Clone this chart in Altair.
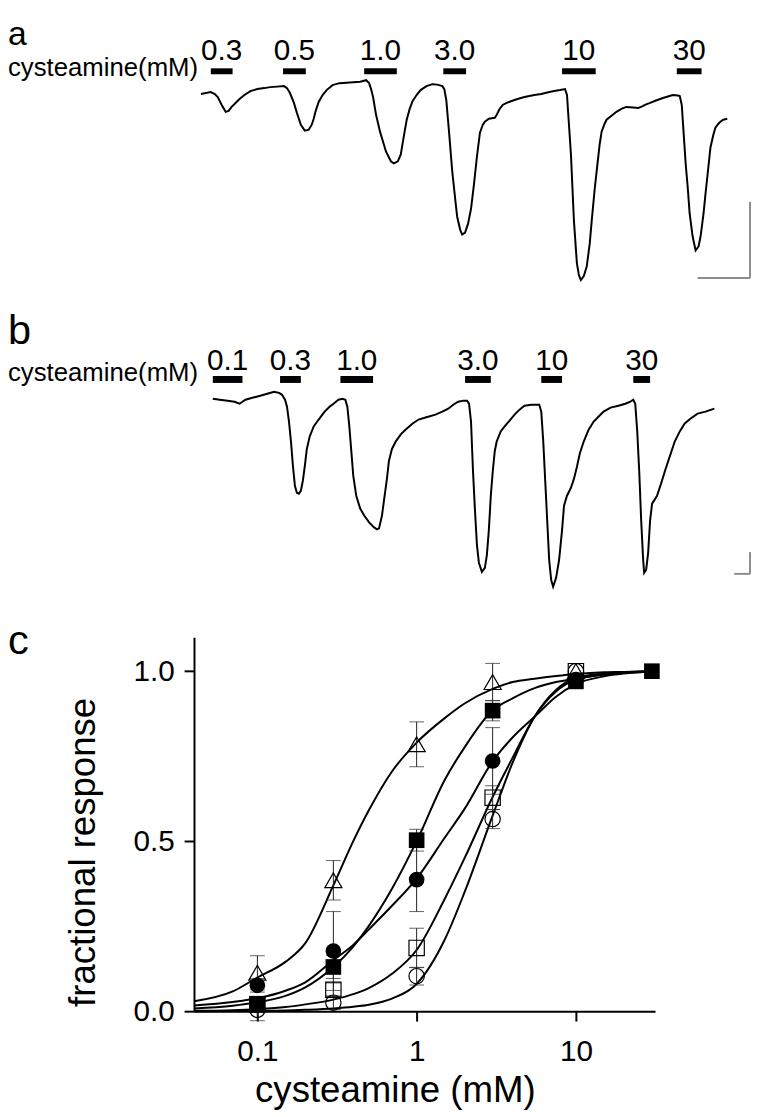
import altair as alt
import pandas as pd

FONT = "Liberation Sans"

# ---------------- panel a : current trace (time, current) in arbitrary units
trace_a = [(203,-89),(208,-88),(213,-87),(217,-89),(220,-92),(224,-100),(228,-107),(231,-106),(234,-102),
           (237,-99),(242,-94),(247,-90),(253,-86),(260,-84),(267,-83),(273,-82),(280,-81.5),(287,-81),
           (290,-83),(293,-88),(297,-98),(300,-108),(304,-120),(308,-126),(312,-125),(315,-120),(317,-114),
           (319,-106),(322,-97),(326,-90),(330,-85),(336,-80),(343,-78),(350,-77.5),(357,-77),(364,-76.5),
           (370,-75),(373,-78),(375,-84),(377,-92),(380,-110),(384,-127),(390,-147),(395,-157),(398,-159),
           (402,-157),(405,-150),(408,-132),(411,-115),(414,-104),(417,-96),(421,-90),(425,-85),(431,-81),
           (437,-79),(442,-79.5),(447,-81),(449,-84),(451,-95),(454,-130),(457,-167),(460,-195),(462,-213),
           (465,-226),(467,-231),(470,-229),(473,-220),(476,-205),(479,-180),(482,-152),(485,-128),(488,-120),
           (490,-117),(494,-114),(497,-113.5),(500,-113),(502,-110),(505,-104),(508,-100),(512,-98),(517,-96),
           (523,-94),(530,-92),(540,-90),(547,-89),(553,-87.5),(560,-86),(566,-85),(571,-84),(573,-90),
           (575,-120),(577,-150),(580,-217),(583,-260),(585,-272),(587,-277),(590,-273),(593,-263),(596,-240),
           (598,-217),(601,-185),(603,-167),(606,-140),(608,-127),(611,-119),(613,-115),(618,-111),(623,-107),
           (628,-104),(633,-102),(640,-102.5),(645,-103),(649,-101.5),(653,-99.5),(657,-98),(663,-95.5),
           (670,-93),(675,-91.5),(680,-90),(685,-90.5),(687,-91),(689,-100),(691,-130),(693,-160),(695,-183),
           (697,-210),(700,-233),(703,-247),(706,-243),(708,-233),(711,-210),(713,-190),(716,-162),(718,-143),
           (721,-130),(723,-123),(726,-119),(728,-117),(731,-115),(735,-114)]

# ---------------- panel b : current trace
trace_b = [(215,-397),(222,-398),(230,-399),(237,-400),(242,-402),(245,-400),(248,-398),(255,-396),(263,-394),
           (270,-392),(277,-390),(282,-391),(285,-393),(288,-398),(290,-405),(292,-420),(294,-440),(296,-465),
           (298,-485),(300,-492),(302,-493),(304,-490),(306,-480),(308,-465),(310,-448),(313,-435),(317,-425),
           (322,-418),(328,-410),(333,-405),(337,-402),(342,-398),(346,-397),(349,-398),(351,-405),(353,-425),
           (355,-450),(357,-475),(360,-495),(364,-508),(368,-515),(373,-522),(378,-527),(381,-529),(383,-528),
           (386,-515),(388,-500),(391,-478),(393,-460),(396,-448),(400,-440),(405,-433),(410,-428),(417,-422),
           (423,-418),(430,-416),(440,-413),(447,-410),(453,-407),(458,-403),(463,-400),(468,-399),(472,-399),
           (474,-402),(476,-420),(478,-470),(480,-510),(482,-545),(484,-563),(487,-572),(490,-568),(492,-555),
           (494,-530),(496,-495),(498,-470),(500,-450),(502,-440),(506,-430),(510,-425),(515,-419),(520,-413),
           (525,-408),(530,-404),(537,-403),(545,-403),(547,-410),(549,-440),(551,-480),(553,-520),(555,-560),
           (557,-580),(559,-587),(562,-578),(565,-560),(568,-530),(570,-505),(573,-495),(577,-487),(580,-478),
           (583,-466),(586,-452),(590,-440),(595,-428),(600,-420),(605,-415),(610,-410),(617,-406),(625,-404),
           (632,-402),(637,-400),(640,-398),(642,-402),(644,-430),(646,-470),(648,-520),(650,-560),(651,-573),
           (653,-570),(655,-553),(657,-520),(659,-503),(661,-500),(664,-495),(668,-483),(672,-470),(677,-455),
           (682,-440),(687,-430),(692,-422),(698,-417),(705,-412),(713,-410),(722,-407)]

# ---------------- drug application bars
bars_a_start = [213, 286, 368, 448, 568, 684]
bars_a_end = [235, 309, 401, 471, 602, 709]
bars_a_conc = ["0.3", "0.5", "1.0", "3.0", "10", "30"]
bars_b_start = [215, 283, 344, 470, 547, 640]
bars_b_end = [245, 304, 377, 496, 568, 657]
bars_b_conc = ["0.1", "0.3", "1.0", "3.0", "10", "30"]

# scale bars (t1, i1, t2, i2)
scale_bars = [(758, -198, 758, -275), (705, -275, 758, -275),
              (758, -552, 758, -574), (742, -574, 758, -574)]

# ---------------- panel c : dose-response data (mean, error)
series_names = ["tri", "fsq", "fci", "osq", "oci"]
pt_conc = {
    "tri": [0.1, 0.3, 1, 3, 10],
    "fsq": [0.1, 0.3, 1, 3, 10, 30],
    "fci": [0.1, 0.3, 1, 3, 10],
    "osq": [0.1, 0.3, 1, 3, 10],
    "oci": [0.1, 0.3, 1, 3, 10],
}
pt_mean = {
    "tri": [0.113, 0.385, 0.785, 0.968, 1.0],
    "fsq": [0.022, 0.13, 0.503, 0.884, 0.97, 1.0],
    "fci": [0.076, 0.177, 0.387, 0.736, 0.975],
    "osq": [0.02, 0.063, 0.186, 0.628, 1.0],
    "oci": [0.004, 0.025, 0.103, 0.565, 1.0],
}
pt_err = {
    "tri": [0.05, 0.058, 0.066, 0.055, 0.0],
    "fsq": [0.015, 0.034, 0.032, 0.03, 0.01, 0.0],
    "fci": [0.02, 0.116, 0.094, 0.098, 0.01],
    "osq": [0.015, 0.02, 0.058, 0.035, 0.0],
    "oci": [0.032, 0.02, 0.026, 0.028, 0.0],
}

# fitted curves
curve_conc = [0.04, 0.07, 0.1, 0.15, 0.2, 0.3, 0.4, 0.5, 0.7, 1.0, 1.5, 2.0, 3.0, 4.0, 5.5, 7.5, 10, 15, 20, 30]
curve_vals = {
    "tri": [0.029, 0.058, 0.099, 0.145, 0.2, 0.37, 0.5, 0.59, 0.705, 0.79, 0.862, 0.905, 0.948, 0.968, 0.978,
            0.986, 0.992, 0.997, 0.998, 1.0],
    "fsq": [0.008, 0.016, 0.026, 0.045, 0.07, 0.13, 0.19, 0.25, 0.36, 0.50, 0.68, 0.776, 0.885, 0.92, 0.95,
            0.968, 0.978, 0.99, 0.995, 0.998],
    "fci": [0.017, 0.027, 0.038, 0.06, 0.085, 0.15, 0.195, 0.24, 0.31, 0.39, 0.51, 0.595, 0.735, 0.805, 0.866,
            0.925, 0.962, 0.985, 0.993, 0.998],
    "osq": [0.001, 0.003, 0.006, 0.012, 0.02, 0.034, 0.05, 0.068, 0.11, 0.18, 0.33, 0.45, 0.63, 0.745, 0.866,
            0.94, 0.975, 0.99, 0.996, 0.999],
    "oci": [0.0, 0.0005, 0.001, 0.002, 0.004, 0.008, 0.013, 0.019, 0.037, 0.08, 0.21, 0.35, 0.575, 0.73, 0.866,
            0.945, 0.98, 0.993, 0.997, 1.0],
}

# ---------------- layout constants (pixels / levels)
W, H = 752, 1109
BAR_LEVEL = {"a": (-63, -69), "b": (-374, -381)}
LABEL_LEVEL = {"a": -55, "b": -368}

# ---------------- tables
rows = [{"panel": "a", "t": t, "i": i} for t, i in trace_a] + \
       [{"panel": "b", "t": t, "i": i} for t, i in trace_b]
df_tr = pd.DataFrame(rows)

brows = []
for p, st, en, cc in (("a", bars_a_start, bars_a_end, bars_a_conc), ("b", bars_b_start, bars_b_end, bars_b_conc)):
    for s, e, c in zip(st, en, cc):
        brows.append({"panel": p, "start": s, "end": e, "mid": (s + e) / 2, "conc": c,
                      "top": BAR_LEVEL[p][0], "bottom": BAR_LEVEL[p][1], "lab": LABEL_LEVEL[p]})
df_bars = pd.DataFrame(brows)

df_sb = pd.DataFrame(scale_bars, columns=["t1", "i1", "t2", "i2"])

df_ann = pd.DataFrame([
    {"text": "a", "t": 8, "i": -39.5, "fs": 34},
    {"text": "cysteamine(mM)", "t": 8, "i": -71, "fs": 26},
    {"text": "b", "t": 8, "i": -342, "fs": 42},
    {"text": "cysteamine(mM)", "t": 8, "i": -379, "fs": 26},
    {"text": "c", "t": 8, "i": -655, "fs": 42},
])

crow = []
for s in series_names:
    for x, y in zip(curve_conc, curve_vals[s]):
        crow.append({"series": s, "x": x, "y": y})
df_curves = pd.DataFrame(crow)

prow = []
for s in series_names:
    for x, m, e in zip(pt_conc[s], pt_mean[s], pt_err[s]):
        prow.append({"series": s, "x": x, "y": m, "lo": m - e, "hi": m + e, "err": e})
df_pts = pd.DataFrame(prow)
df_err = df_pts[df_pts["err"] > 0]
df_caps = pd.concat([df_err[["series", "x"]].assign(y=df_err["lo"]),
                     df_err[["series", "x"]].assign(y=df_err["hi"])])

# ---------------- panels a, b
XT = alt.Scale(domain=[8, 760], nice=False, zero=False)
YI = alt.Scale(domain=[-1117, -8], nice=False, zero=False)


def tx(f):
    return alt.X(f, type="quantitative", scale=XT, axis=None)


def ty(f):
    return alt.Y(f, type="quantitative", scale=YI, axis=None)


trace_line = alt.Chart(df_tr).mark_line(color="black", strokeWidth=2).encode(
    x=tx("t"), y=ty("i"), detail="panel:N")
bars = alt.Chart(df_bars).mark_rect(color="black").encode(
    x=tx("start"), x2="end", y=ty("top"), y2="bottom")
bar_labels = alt.Chart(df_bars).mark_text(font=FONT, fontSize=30, baseline="alphabetic", align="center",
                                          color="black").encode(x=tx("mid"), y=ty("lab"), text="conc:N")
ann = alt.Chart(df_ann).mark_text(font=FONT, baseline="alphabetic", align="left", color="black").encode(
    x=tx("t"), y=ty("i"), text="text:N", size=alt.Size("fs:Q", scale=None, legend=None))
sbars = alt.Chart(df_sb).mark_rule(color="#8c8c8c", strokeWidth=2).encode(
    x=tx("t1"), x2="t2", y=ty("i1"), y2="i2")

layer_ab = alt.layer(trace_line, bars, bar_labels, ann, sbars)

# ---------------- panel c
xaxis = alt.Axis(orient="bottom", offset=-101, values=[0.1, 1, 10], format="~g", grid=False,
                 labelFont=FONT, labelFontSize=30, labelColor="black", labelPadding=16,
                 labelFlush=False, labelOverlap=False,
                 tickSize=10, tickWidth=2, tickColor="black", domainWidth=2, domainColor="black",
                 title="cysteamine (mM)", titleFont=FONT, titleFontSize=37, titleFontWeight="normal",
                 titleColor="black", titleX=391, titleY=91, titleBaseline="alphabetic", titleAlign="center")
yaxis = alt.Axis(orient="left", offset=-188, values=[0, 0.5, 1.0], format=".1f", grid=False,
                 labelFont=FONT, labelFontSize=30, labelColor="black", labelPadding=10,
                 labelFlush=False, labelOverlap=False,
                 tickSize=10, tickWidth=2, tickColor="black", domainWidth=2, domainColor="black",
                 title="fractional response", titleFont=FONT, titleFontSize=37, titleFontWeight="normal",
                 titleColor="black", titleX=-101, titleY=847, titleAngle=270, titleBaseline="alphabetic",
                 titleAlign="center")

XC = alt.Scale(type="log", domain=[0.04, 31.4], range=[188, 654], nice=False)
YC = alt.Scale(domain=[0, 1.1], range=[1008, 630], nice=False, zero=False)


def cx(f):
    return alt.X(f, type="quantitative", scale=XC, axis=xaxis)


def cy(f):
    return alt.Y(f, type="quantitative", scale=YC, axis=yaxis)


shape_enc = alt.Shape("series:N", scale=alt.Scale(domain=series_names,
                      range=["triangle-up", "square", "circle", "square", "circle"]), legend=None)

curves = alt.Chart(df_curves).mark_line(color="black", strokeWidth=2, interpolate="monotone").encode(
    x=cx("x"), y=cy("y"), detail="series:N")
err_rules = alt.Chart(df_err).mark_rule(color="#222222", strokeWidth=1).encode(
    x=cx("x"), y=cy("lo"), y2="hi")
caps = alt.Chart(df_caps).mark_tick(orient="horizontal", size=15, thickness=1, color="#222222").encode(
    x=cx("x"), y=cy("y"))
pts_tri = alt.Chart(df_pts[df_pts.series == "tri"]).mark_point(
    filled=False, color="black", strokeWidth=1.2, size=300, opacity=1).encode(x=cx("x"), y=cy("y"), shape=shape_enc)
pts_open = alt.Chart(df_pts[df_pts.series.isin(["osq", "oci"])]).mark_point(
    filled=False, color="black", strokeWidth=1.2, size=240, opacity=1).encode(x=cx("x"), y=cy("y"), shape=shape_enc)
pts_fill = alt.Chart(df_pts[df_pts.series.isin(["fsq", "fci"])]).mark_point(
    filled=True, color="black", size=250, opacity=1).encode(x=cx("x"), y=cy("y"), shape=shape_enc)

layer_c = alt.layer(curves, err_rules, caps, pts_tri, pts_open, pts_fill)

chart = alt.layer(layer_ab, layer_c).resolve_scale(x="independent", y="independent").properties(
    width=W, height=H, autosize=alt.AutoSizeParams(type="none"), padding=0, background="white"
).configure_view(stroke=None)

chart.save("out.html", embed_options={"renderer": "svg", "actions": False})
